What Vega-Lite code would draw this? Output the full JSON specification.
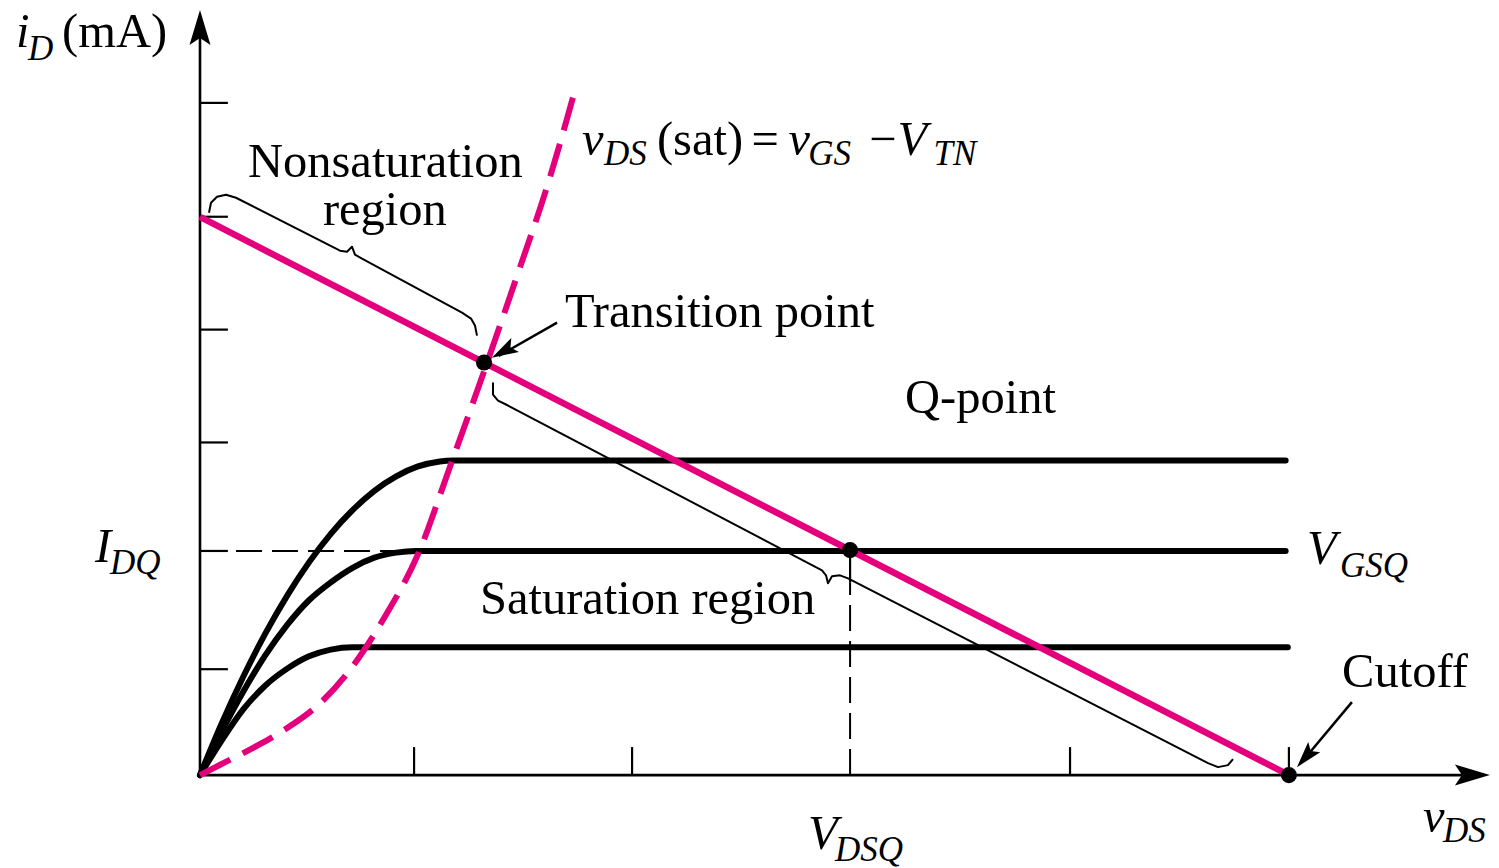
{
  "$schema": "https://vega.github.io/schema/vega-lite/v6.json",
  "width": 1499,
  "height": 868,
  "padding": 0,
  "autosize": {"type": "fit", "contains": "padding"},
  "background": "white",
  "config": {"view": {"stroke": null}},
  "datasets": {
    "curves": [
      {"c": "top", "x": 0, "y": 0}, {"c": "top", "x": 0.1, "y": 0.463}, {"c": "top", "x": 0.2, "y": 0.884}, {"c": "top", "x": 0.3, "y": 1.264}, {"c": "top", "x": 0.4, "y": 1.602}, {"c": "top", "x": 0.5, "y": 1.898}, {"c": "top", "x": 0.6, "y": 2.153}, {"c": "top", "x": 0.7, "y": 2.365}, {"c": "top", "x": 0.8, "y": 2.537}, {"c": "top", "x": 0.9, "y": 2.666}, {"c": "top", "x": 1.0, "y": 2.754}, {"c": "top", "x": 1.1, "y": 2.799}, {"c": "top", "x": 1.16, "y": 2.807}, {"c": "top", "x": 4.98, "y": 2.807},
      {"c": "mid", "x": 0, "y": 0}, {"c": "mid", "x": 0.1, "y": 0.39}, {"c": "mid", "x": 0.2, "y": 0.75}, {"c": "mid", "x": 0.3, "y": 1.07}, {"c": "mid", "x": 0.4, "y": 1.34}, {"c": "mid", "x": 0.5, "y": 1.56}, {"c": "mid", "x": 0.6, "y": 1.72}, {"c": "mid", "x": 0.7, "y": 1.85}, {"c": "mid", "x": 0.8, "y": 1.94}, {"c": "mid", "x": 0.9, "y": 1.985}, {"c": "mid", "x": 0.99, "y": 2.0}, {"c": "mid", "x": 4.98, "y": 2.0},
      {"c": "low", "x": 0, "y": 0}, {"c": "low", "x": 0.1, "y": 0.31}, {"c": "low", "x": 0.2, "y": 0.59}, {"c": "low", "x": 0.3, "y": 0.8}, {"c": "low", "x": 0.4, "y": 0.95}, {"c": "low", "x": 0.5, "y": 1.06}, {"c": "low", "x": 0.6, "y": 1.12}, {"c": "low", "x": 0.7, "y": 1.141}, {"c": "low", "x": 4.99, "y": 1.141}
    ],
    "load": [{"x": 0, "y": 4.98}, {"x": 4.995, "y": 0}],
    "sat": [
      {"x": 0, "y": 0}, {"x": 0.1, "y": 0.1}, {"x": 0.25, "y": 0.25}, {"x": 0.4, "y": 0.42}, {"x": 0.55, "y": 0.64}, {"x": 0.7, "y": 0.97}, {"x": 0.85, "y": 1.42}, {"x": 1.0, "y": 1.97}, {"x": 1.15, "y": 2.77}, {"x": 1.317, "y": 3.68}, {"x": 1.45, "y": 4.43}, {"x": 1.6, "y": 5.3}, {"x": 1.72, "y": 6.11}
    ],
    "braces": [
      {"b": "non", "i": 0, "x": 0.0413, "y": 5.0178}, {"b": "non", "i": 1, "x": 0.0505, "y": 5.107}, {"b": "non", "i": 2, "x": 0.078, "y": 5.1604}, {"b": "non", "i": 3, "x": 0.1193, "y": 5.1783}, {"b": "non", "i": 4, "x": 0.1651, "y": 5.1515}, {"b": "non", "i": 5, "x": 0.6422, "y": 4.6791}, {"b": "non", "i": 6, "x": 0.6743, "y": 4.6702}, {"b": "non", "i": 7, "x": 0.6972, "y": 4.7148}, {"b": "non", "i": 8, "x": 0.711, "y": 4.6435}, {"b": "non", "i": 9, "x": 0.7431, "y": 4.6078}, {"b": "non", "i": 10, "x": 1.2018, "y": 4.1266}, {"b": "non", "i": 11, "x": 1.2431, "y": 4.0731}, {"b": "non", "i": 12, "x": 1.2615, "y": 4.0107}, {"b": "non", "i": 13, "x": 1.2706, "y": 3.9216},
      {"b": "sat", "i": 0, "x": 1.344, "y": 3.5027}, {"b": "sat", "i": 1, "x": 1.344, "y": 3.3957}, {"b": "sat", "i": 2, "x": 1.367, "y": 3.3422}, {"b": "sat", "i": 3, "x": 1.4037, "y": 3.3066}, {"b": "sat", "i": 4, "x": 2.8532, "y": 1.8271}, {"b": "sat", "i": 5, "x": 2.8716, "y": 1.7825}, {"b": "sat", "i": 6, "x": 2.8807, "y": 1.7112}, {"b": "sat", "i": 7, "x": 2.8991, "y": 1.7736}, {"b": "sat", "i": 8, "x": 2.9358, "y": 1.7825}, {"b": "sat", "i": 9, "x": 2.9725, "y": 1.7558}, {"b": "sat", "i": 10, "x": 4.6239, "y": 0.107}, {"b": "sat", "i": 11, "x": 4.6697, "y": 0.0713}, {"b": "sat", "i": 12, "x": 4.7156, "y": 0.0891}, {"b": "sat", "i": 13, "x": 4.7385, "y": 0.1426}
    ],
    "axes": [
      {"x": 0, "x2": 0, "y": 0, "y2": 6.6},
      {"x": 0, "x2": 5.8, "y": 0, "y2": 0}
    ],
    "ticks": [
      {"x": 0, "x2": 0.128, "y": 0.945, "y2": 0.945},
      {"x": 0, "x2": 0.128, "y": 2.0, "y2": 2.0},
      {"x": 0, "x2": 0.128, "y": 2.968, "y2": 2.968},
      {"x": 0, "x2": 0.128, "y": 3.975, "y2": 3.975},
      {"x": 0, "x2": 0.128, "y": 4.982, "y2": 4.982},
      {"x": 0, "x2": 0.128, "y": 5.998, "y2": 5.998},
      {"x": 0.982, "x2": 0.982, "y": 0, "y2": 0.25},
      {"x": 1.982, "x2": 1.982, "y": 0, "y2": 0.25},
      {"x": 3.991, "x2": 3.991, "y": 0, "y2": 0.25},
      {"x": 4.995, "x2": 4.995, "y": 0, "y2": 0.25},
      {"x": 2.982, "x2": 2.982, "y": 1.72, "y2": 2.0}
    ],
    "guides": [
      {"x": 0, "x2": 2.982, "y": 2.0, "y2": 2.0},
      {"x": 2.982, "x2": 2.982, "y": 0, "y2": 1.72}
    ],
    "pointers": [
      {"x": 1.638, "x2": 1.37, "y": 4.037, "y2": 3.74},
      {"x": 5.284, "x2": 5.06, "y": 0.651, "y2": 0.13}
    ],
    "dots": [
      {"x": 1.303, "y": 3.681}, {"x": 2.982, "y": 2.007}, {"x": 4.995, "y": 0}
    ],
    "textMain": [
      {"t": "(mA)", "x": -0.633, "y": 6.497},
      {"t": "Nonsaturation", "x": 0.22, "y": 5.339},
      {"t": "region", "x": 0.564, "y": 4.911},
      {"t": "(sat)", "x": 2.096, "y": 5.535},
      {"t": "=", "x": 2.53, "y": 5.535},
      {"t": "−", "x": 3.07, "y": 5.535},
      {"t": "Transition point", "x": 1.674, "y": 4.002},
      {"t": "Q-point", "x": 3.234, "y": 3.235},
      {"t": "Saturation region", "x": 1.284, "y": 1.435},
      {"t": "Cutoff", "x": 5.239, "y": 0.784}
    ],
    "textItalic": [
      {"t": "i", "x": -0.844, "y": 6.497},
      {"t": "v", "x": 1.752, "y": 5.535},
      {"t": "v", "x": 2.70, "y": 5.535},
      {"t": "V", "x": 3.2, "y": 5.535},
      {"t": "V", "x": 5.078, "y": 1.881},
      {"t": "I", "x": -0.482, "y": 1.898},
      {"t": "v", "x": 5.61, "y": -0.508},
      {"t": "V", "x": 2.789, "y": -0.66}
    ],
    "textSub": [
      {"t": "D", "x": -0.789, "y": 6.381},
      {"t": "DS", "x": 1.853, "y": 5.446},
      {"t": "GS", "x": 2.79, "y": 5.446},
      {"t": "TN", "x": 3.365, "y": 5.446},
      {"t": "GSQ", "x": 5.229, "y": 1.765},
      {"t": "DQ", "x": -0.413, "y": 1.791},
      {"t": "DS", "x": 5.702, "y": -0.597},
      {"t": "DSQ", "x": 2.913, "y": -0.766}
    ]
  },
  "encoding": {
    "x": {"field": "x", "type": "quantitative", "scale": {"domain": [-0.9174, 5.9587], "nice": false, "zero": false}, "axis": null},
    "y": {"field": "y", "type": "quantitative", "scale": {"domain": [-0.82, 6.916], "nice": false, "zero": false}, "axis": null}
  },
  "layer": [
    {"data": {"name": "guides"}, "mark": {"type": "rule", "color": "black", "strokeWidth": 2, "strokeDash": [26, 10]}, "encoding": {"x2": {"field": "x2"}, "y2": {"field": "y2"}}},
    {"data": {"name": "axes"}, "mark": {"type": "rule", "color": "black", "strokeWidth": 2.6}, "encoding": {"x2": {"field": "x2"}, "y2": {"field": "y2"}}},
    {"data": {"name": "ticks"}, "mark": {"type": "rule", "color": "black", "strokeWidth": 2.2}, "encoding": {"x2": {"field": "x2"}, "y2": {"field": "y2"}}},
    {"data": {"name": "curves"}, "mark": {"type": "line", "color": "black", "strokeWidth": 6, "interpolate": "monotone", "strokeCap": "round"}, "encoding": {"detail": {"field": "c"}}},
    {"data": {"name": "braces"}, "mark": {"type": "line", "color": "black", "strokeWidth": 2, "interpolate": "linear", "strokeJoin": "round"}, "encoding": {"detail": {"field": "b"}, "order": {"field": "i"}}},
    {"data": {"name": "sat"}, "mark": {"type": "line", "color": "#E4007C", "strokeWidth": 6, "strokeDash": [34, 14], "interpolate": "monotone"}, "encoding": {}},
    {"data": {"name": "load"}, "mark": {"type": "line", "color": "#E4007C", "strokeWidth": 6.5}, "encoding": {}},
    {"data": {"name": "pointers"}, "mark": {"type": "rule", "color": "black", "strokeWidth": 2.5}, "encoding": {"x2": {"field": "x2"}, "y2": {"field": "y2"}}},
    {"data": {"name": "dots"}, "mark": {"type": "point", "shape": "circle", "filled": true, "color": "black", "opacity": 1, "size": 260}},
    {"data": {"values": [{"x": 0, "y": 6.827}]}, "mark": {"type": "point", "shape": "M0,0L0.6,2L0,1.6L-0.6,2Z", "filled": true, "color": "black", "opacity": 1, "size": 1225, "angle": 0}},
    {"data": {"values": [{"x": 5.917, "y": 0}]}, "mark": {"type": "point", "shape": "M0,0L0.6,2L0,1.6L-0.6,2Z", "filled": true, "color": "black", "opacity": 1, "size": 1225, "angle": 90}},
    {"data": {"values": [{"x": 1.339, "y": 3.725}]}, "mark": {"type": "point", "shape": "M0,0L0.6,2L0,1.6L-0.6,2Z", "filled": true, "color": "black", "opacity": 1, "size": 700, "angle": 241.3}},
    {"data": {"values": [{"x": 5.032, "y": 0.071}]}, "mark": {"type": "point", "shape": "M0,0L0.6,2L0,1.6L-0.6,2Z", "filled": true, "color": "black", "opacity": 1, "size": 700, "angle": 220.7}},
    {"data": {"name": "textMain"}, "mark": {"type": "text", "font": "Liberation Serif", "fontSize": 48.5, "align": "left", "baseline": "alphabetic", "color": "black"}, "encoding": {"text": {"field": "t"}}},
    {"data": {"name": "textItalic"}, "mark": {"type": "text", "font": "Liberation Serif", "fontSize": 48.5, "fontStyle": "italic", "align": "left", "baseline": "alphabetic", "color": "black"}, "encoding": {"text": {"field": "t"}}},
    {"data": {"name": "textSub"}, "mark": {"type": "text", "font": "Liberation Serif", "fontSize": 35, "fontStyle": "italic", "align": "left", "baseline": "alphabetic", "color": "black"}, "encoding": {"text": {"field": "t"}}}
  ]
}
